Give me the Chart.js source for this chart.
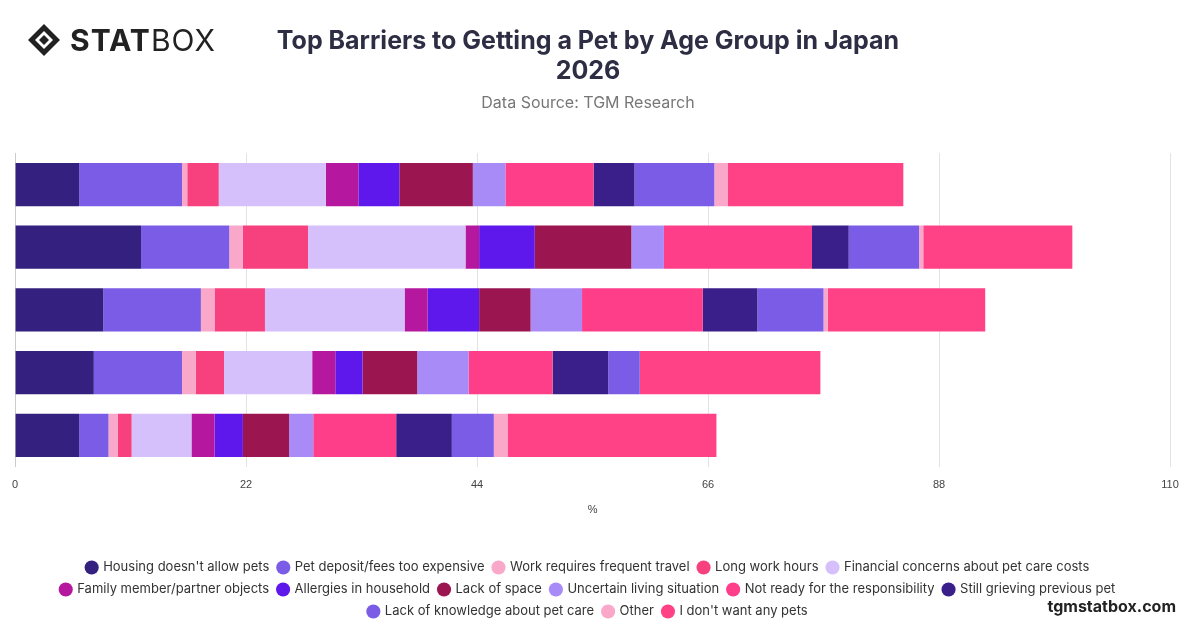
<!DOCTYPE html>
<html><head><meta charset="utf-8">
<script src="https://cdn.jsdelivr.net/npm/chart.js@4"></script>
<style>
body{margin:0;width:1200px;height:628px;background:#fff;font-family:Inter,"Noto Sans",sans-serif;position:relative;overflow:hidden}
#logo{position:absolute;left:26px;top:22px;font:700 30px Inter,sans-serif;color:#222;letter-spacing:1px;display:flex;align-items:center}
#logo span.l{font-weight:400}
#foot{position:absolute;right:24px;bottom:12px;font:700 16px Inter,sans-serif;color:#222}
#wrap{position:absolute;left:0;top:0;width:1200px;height:628px}
</style></head><body>
<div id="wrap"><canvas id="c" width="1200" height="628"></canvas></div>
<div id="logo"><svg width="36" height="36" viewBox="0 0 36 36"><path d="M18 2 L34 18 L18 34 L2 18 Z" fill="#222"/><path d="M18 9 L27 18 L18 27 L9 18 Z" fill="#fff"/><path d="M18 13 L23 18 L18 23 L13 18 Z" fill="#222"/></svg>&nbsp;STAT<span class="l">BOX</span></div>
<div id="foot">tgmstatbox.com</div>
<script>
const categories=["18-24","25-34","35-44","45-54","55+"];
const seriesNames=["Housing doesn't allow pets","Pet deposit/fees too expensive","Work requires frequent travel","Long work hours","Financial concerns about pet care costs","Family member/partner objects","Allergies in household","Lack of space","Uncertain living situation","Not ready for the responsibility","Still grieving previous pet","Lack of knowledge about pet care","Other","I don't want any pets"];
const colors=["#34207e","#7b5ce6","#f9a8c9","#f7407e","#d5c0fb","#b5189e","#5f18eb","#9b1650","#a98bf7","#ff3e8a","#3a1f8a","#7b5ce6","#f9a8c9","#ff4185"];
const values=[
[6.1,12.0,8.4,7.5,6.1],
[9.8,8.4,9.3,8.4,2.8],
[0.5,1.3,1.3,1.3,0.9],
[3.0,6.2,4.8,2.7,1.3],
[10.2,15.0,13.3,8.4,5.7],
[3.1,1.3,2.2,2.2,2.2],
[3.9,5.3,4.9,2.6,2.7],
[7.0,9.2,4.9,5.2,4.4],
[3.1,3.1,4.9,4.9,2.3],
[8.4,14.1,11.5,8.0,7.9],
[3.9,3.5,5.2,5.3,5.3],
[7.6,6.7,6.3,3.0,4.0],
[1.3,0.4,0.4,0,1.3],
[16.7,14.2,15.0,17.2,19.9]];
const xTicks=[0,22,44,66,88,110];
new Chart(document.getElementById('c'),{type:'bar',
data:{labels:categories,datasets:seriesNames.map((n,i)=>({label:n,data:values[i],backgroundColor:colors[i],borderWidth:0,barPercentage:0.69,categoryPercentage:1}))},
options:{indexAxis:'y',responsive:false,animation:false,
layout:{padding:{left:6,right:30,top:10,bottom:0}},
plugins:{title:{display:true,text:['Top Barriers to Getting a Pet by Age Group in Japan','2026'],font:{size:25,weight:'bold',family:'Inter'},color:'#2d2d44',padding:{top:16,bottom:4}},
subtitle:{display:true,text:'Data Source: TGM Research',font:{size:16,family:'Inter'},color:'#777',padding:{top:4,bottom:40}},
legend:{position:'bottom',labels:{usePointStyle:true,pointStyle:'circle',boxWidth:10,boxHeight:10,padding:9,font:{size:13,family:'Inter'},color:'#333'}},tooltip:{enabled:false}},
scales:{x:{stacked:true,min:0,max:110,afterBuildTicks:a=>{a.ticks=xTicks.map(v=>({value:v}))},ticks:{font:{size:11},color:'#444',padding:12},grid:{color:'#e3e3e3',drawTicks:false},border:{display:false},title:{display:true,text:'%',font:{size:11},color:'#444',padding:{top:0,bottom:35}}},
y:{stacked:true,ticks:{display:false},grid:{display:false},border:{display:true,color:'#ccc'}}}}});
</script></body></html>
